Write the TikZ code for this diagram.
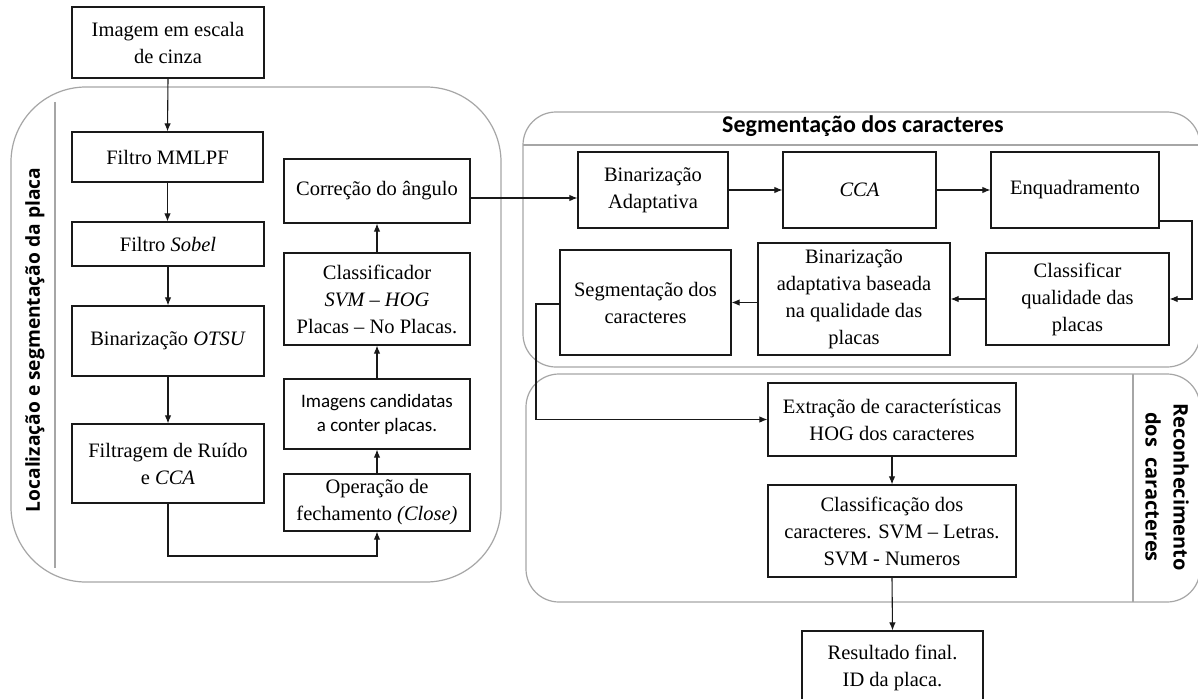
\documentclass[tikz,border=0pt]{standalone}
\usepackage{fontspec}
\setmainfont{Liberation Serif}
\newfontfamily\calib{Carlito}
\newfontfamily\osans{Open Sans}
\usetikzlibrary{arrows.meta,calc}
\begin{document}
\begin{tikzpicture}[x=1pt,y=-1pt,
  box/.style={draw=black!90,line width=1.2pt,inner sep=0pt,align=center,font=\fontsize{20.5}{27}\selectfont},
  panel/.style={draw=black!35,line width=1.2pt},
  arr/.style={draw=black!90,line width=1.1pt,-{Latex[length=8pt,width=6.5pt]}}]
\useasboundingbox (0,0) rectangle (1198,698);
\clip (0,0) rectangle (1198,698);
\fill[white] (0,0) rectangle (1198,698);
% panels
\draw[panel,rounded corners=75pt] (11,87) rectangle (501,582);
\draw[panel] (55,102) -- (55,568);
\draw[panel,rounded corners=33pt] (523,112) rectangle (1200,367);
\draw[panel] (523,145) -- (1200,145);
\draw[panel,rounded corners=33pt] (526,374) rectangle (1200,602);
\draw[panel] (1133,374) -- (1133,602);
% labels
\node[rotate=90,inner sep=0pt,font=\osans\bfseries\fontsize{19.2}{24}\selectfont] (lab1) at (35,340) {Localização e segmentação da placa};
\node[inner sep=0pt,font=\calib\bfseries\fontsize{24}{28}\selectfont] (lab2) at (863,126) {Segmentação dos caracteres};
\node[rotate=-90,inner sep=0pt,align=center,font=\osans\bfseries\fontsize{20}{28}\selectfont] (lab3) at (1167,487) {Reconhecimento\\dos\ \ caracteres};
% left column
\node[box,minimum width=192pt,minimum height=71pt] (img) at (168,42.5) {Imagem em escala\\de cinza};
\node[box,minimum width=191pt,minimum height=50pt] (mmlpf) at (167.5,157) {Filtro MMLPF};
\node[box,minimum width=192pt,minimum height=44pt] (sobel) at (168,244) {Filtro \textit{Sobel}};
\node[box,minimum width=192pt,minimum height=70pt] (otsu) at (168,341) {Binarização \textit{OTSU}};
\node[box,minimum width=192pt,minimum height=79pt] (ruido) at (168,463.5) {Filtragem de Ruído\\e \textit{CCA}};
% right column of left panel
\node[box,minimum width=186pt,minimum height=64pt] (angulo) at (377,191) {Correção do ângulo};
\node[box,minimum width=186pt,minimum height=92pt] (svm) at (377,299) {Classificador\\\textit{SVM – HOG}\\Placas – No Placas.};
\node[box,minimum width=186pt,minimum height=70pt,font=\calib\fontsize{19}{24}\selectfont] (cand) at (377,414) {Imagens candidatas\\a conter placas.};
\node[box,minimum width=186pt,minimum height=57pt] (close) at (377,502.5) {Operação de\\fechamento \textit{(Close)}};
% segmentation panel
\node[box,minimum width=150pt,minimum height=76pt] (ba) at (653,190) {Binarização\\Adaptativa};
\node[box,minimum width=153pt,minimum height=76pt] (cca) at (859.5,190) {\textit{CCA}};
\node[box,minimum width=168pt,minimum height=76pt] (enq) at (1075,190) {Enquadramento};
\node[box,minimum width=183pt,minimum height=92pt] (cls) at (1077.5,299) {Classificar\\qualidade das\\placas};
\node[box,minimum width=192pt,minimum height=112pt] (bab) at (854,299) {Binarização\\adaptativa baseada\\na qualidade das\\placas};
\node[box,minimum width=171pt,minimum height=105pt] (seg) at (645.5,302.5) {Segmentação dos\\caracteres};
% recognition panel
\node[box,minimum width=248pt,minimum height=73pt] (hog) at (892,419.5) {Extração de características\\HOG dos caracteres};
\node[box,minimum width=248pt,minimum height=92pt] (clf) at (892,531) {Classificação dos\\caracteres. SVM – Letras.\\SVM - Numeros};
\node[box,minimum width=181pt,minimum height=74pt] (res) at (892.5,668) {Resultado final.\\ID da placa.};
% connectors
\draw[arr] (img.south) -- (mmlpf.north);
\draw[arr] (mmlpf.south) -- (mmlpf.south |- sobel.north);
\draw[arr] (sobel.south) -- (otsu.north);
\draw[arr] (otsu.south) -- (ruido.north);
\coordinate (r1) at (168,556);
\draw[arr] (ruido.south) -- (r1) -| (close.south);
\draw[arr] (close.north) -- (cand.south);
\draw[arr] (cand.north) -- (svm.south);
\draw[arr] (svm.north) -- (angulo.south);
\draw[arr] ([yshift=-7pt]angulo.east) -- ([yshift=-8pt]ba.west);
\draw[arr] (ba.east) -- (cca.west);
\draw[arr] (cca.east) -- (enq.west);
\coordinate (e1) at (1192,221);
\draw[arr] (enq.east |- e1) -- (e1) |- (cls.east);
\draw[arr] (cls.west) -- (bab.east);
\draw[arr] (bab.west |- seg.east) -- (seg.east);
\coordinate (s1) at (536,304);
\draw[arr] (seg.west |- s1) -- (s1) |- (hog.west);
\draw[arr] (hog.south) -- (clf.north);
\draw[arr] (clf.south) -- (res.north);
\end{tikzpicture}
\end{document}
